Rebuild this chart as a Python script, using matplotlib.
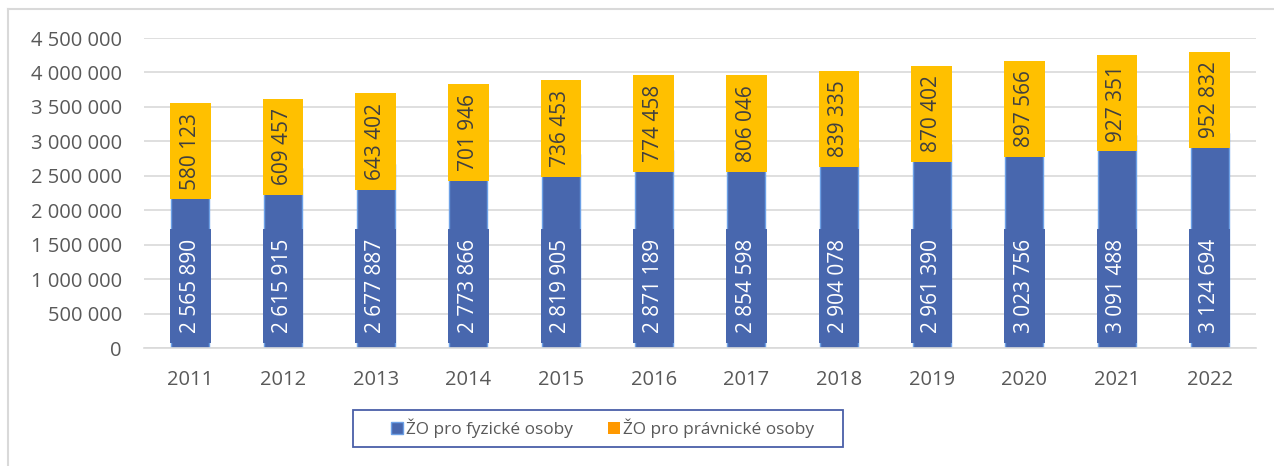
import matplotlib
matplotlib.use("Agg")
import matplotlib.pyplot as plt
from matplotlib.lines import Line2D
from matplotlib.patches import Rectangle
import numpy as np

years = ["2011", "2012", "2013", "2014", "2015", "2016", "2017", "2018", "2019", "2020", "2021", "2022"]
fyzicke = [2565890, 2615915, 2677887, 2773866, 2819905, 2871189, 2854598, 2904078, 2961390, 3023756, 3091488, 3124694]
pravnicke = [580123, 609457, 643402, 701946, 736453, 774458, 806046, 839335, 870402, 897566, 927351, 952832]
series_names = ["ŽO pro fyzické osoby", "ŽO pro právnické osoby"]
y_ticks = list(range(0, 4500001, 500000))

BLUE = "#4867AE"
BLUE_EDGE = "#6CA0E6"
ORANGE_SERIES = "#FF9900"
ORANGE_BOX = "#FFC000"
GRID = "#D9D9D9"
TXT = "#595959"

plt.rcParams['font.family'] = ['Open Sans', 'DejaVu Sans']

W, H = 1274, 466
fig = plt.figure(figsize=(W / 100, H / 100), dpi=100)
ax = fig.add_axes([144 / W, 1 - 348 / H, (1256 - 144) / W, (348 - 38) / H])

x = np.arange(len(years))
w = 0.41
b1 = ax.bar(x, fyzicke, width=w, color=BLUE, edgecolor=BLUE_EDGE, linewidth=1.0, zorder=2,
            label=series_names[0])
b2 = ax.bar(x, pravnicke, width=w, bottom=fyzicke, color=ORANGE_SERIES, linewidth=0, zorder=2,
            label=series_names[1])

fmt = lambda v: f"{v:,}".replace(",", " ")

for i in range(len(years)):
    ax.annotate(fmt(fyzicke[i]), xy=(x[i], 0), xytext=(0, 10.6), textcoords="offset points",
                rotation=90, ha="center", va="bottom", color="white", fontsize=15, zorder=4,
                bbox=dict(boxstyle="square,pad=0.47", facecolor=BLUE, edgecolor="none"))
    ax.text(x[i], fyzicke[i] + pravnicke[i] / 2, fmt(pravnicke[i]), rotation=90,
            ha="center", va="center", color="#404040", fontsize=15, zorder=4,
            bbox=dict(boxstyle="square,pad=0.47", facecolor=ORANGE_BOX, edgecolor="none"))

ax.set_xlim(-0.5, len(years) - 0.5)
ax.set_ylim(0, 4500000)
ax.set_yticks(y_ticks)
ax.set_yticklabels([fmt(v) for v in y_ticks])
ax.set_xticks(x)
ax.set_xticklabels(years)
ax.tick_params(axis="both", length=0, colors=TXT, labelsize=14.5)
ax.tick_params(axis="y", pad=16)
ax.tick_params(axis="x", pad=16)
ax.yaxis.grid(True, color=GRID, linewidth=1.2, zorder=0)
ax.set_axisbelow(True)
for s in ["top", "right", "left"]:
    ax.spines[s].set_visible(False)
ax.spines["bottom"].set_color(GRID)
ax.spines["bottom"].set_linewidth(1.2)

leg = fig.legend(handles=[b1, b2], loc="center", bbox_to_anchor=(602.5 / W, 1 - 428.5 / H),
                 ncol=2, fontsize=12.4, frameon=False,
                 handlelength=0.7, handleheight=0.7, handletextpad=0.2, columnspacing=2.0,
                 borderpad=0.3, borderaxespad=0)
for t in leg.get_texts():
    t.set_color(TXT)

# legend frame
fig.add_artist(Rectangle((353 / W, 1 - 447 / H), (843 - 353) / W, (447 - 410) / H,
                         transform=fig.transFigure, facecolor="none", edgecolor="#4A5FA8",
                         linewidth=1.3))

# chart outer border (top and left visible)
x0, y0 = 8 / W, 1 - 9 / H
fig.add_artist(Line2D([x0, x0], [0, y0], transform=fig.transFigure, color=GRID, linewidth=1.5))
fig.add_artist(Line2D([x0, 1], [y0, y0], transform=fig.transFigure, color=GRID, linewidth=1.5))

fig.savefig("out.png", dpi=100)
